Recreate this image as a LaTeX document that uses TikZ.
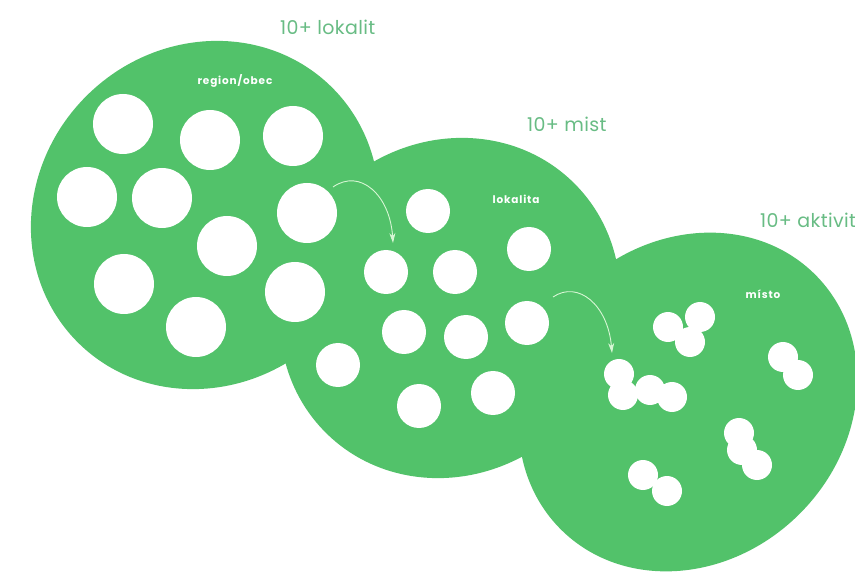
\documentclass[tikz,border=0pt]{standalone}
\usepackage{fontspec}
\setmainfont{Poppins}
\usetikzlibrary{shapes.geometric,arrows.meta}
\definecolor{disc}{RGB}{82,194,106}
\definecolor{titlec}{RGB}{104,188,132}
\definecolor{arrowc}{RGB}{215,246,212}
\tikzset{
  bigdisc/.style={ellipse, fill=disc, inner sep=0pt, rotate=45},
  holeA/.style={circle, fill=white, inner sep=0pt, minimum size=60pt},
  holeB/.style={circle, fill=white, inner sep=0pt, minimum size=44pt},
  holeC/.style={circle, fill=white, inner sep=0pt, minimum size=30pt},
  titlelab/.style={anchor=base west, inner sep=0pt, text=titlec, font=\fontsize{19}{21}\selectfont\addfontfeature{LetterSpace=2}},
  innerlab/.style={inner sep=0pt, text=white, font=\fontsize{10.5}{12}\selectfont\bfseries\addfontfeature{LetterSpace=8}},
  flow/.style={draw=arrowc, line width=0.9pt, -{Stealth[length=10pt,width=6pt]}}
}
\begin{document}
\begin{tikzpicture}[x=1pt,y=-1pt]
\clip (0,0) rectangle (855,572);
\fill[white] (0,0) rectangle (855,572);
% big discs
\node[bigdisc, minimum width=360pt, minimum height=336pt] (c1) at (205,215) {};
\node[bigdisc, minimum width=352pt, minimum height=328pt] (c2) at (450,308) {};
\node[bigdisc, minimum width=360pt, minimum height=316pt] (c3) at (688,402) {};
% holes disc 1
\node[holeA] (a1) at (123,124) {};
\node[holeA] (a2) at (210,140) {};
\node[holeA] (a3) at (293,136) {};
\node[holeA] (a4) at (87,197) {};
\node[holeA] (a5) at (162,198) {};
\node[holeA] (a6) at (307,213) {};
\node[holeA] (a7) at (227,246) {};
\node[holeA] (a8) at (124,284) {};
\node[holeA] (a9) at (295,292) {};
\node[holeA] (a10) at (196,327) {};
% holes disc 2
\node[holeB] (b1) at (428,211) {};
\node[holeB] (b2) at (386,272) {};
\node[holeB] (b3) at (455,272) {};
\node[holeB] (b4) at (529,249) {};
\node[holeB] (b5) at (404,332) {};
\node[holeB] (b6) at (466,337) {};
\node[holeB] (b7) at (527,323) {};
\node[holeB] (b8) at (338,365) {};
\node[holeB] (b9) at (419,406) {};
\node[holeB] (b10) at (493,393) {};
% blobs disc 3
\node[holeC] (p1) at (668,327) {};
\node[holeC] (p2) at (700,317) {};
\node[holeC] (p3) at (690,342) {};
\node[holeC] (q1) at (619,374) {};
\node[holeC] (q2) at (623,395) {};
\node[holeC] (q3) at (650,390) {};
\node[holeC] (q4) at (672,397) {};
\node[holeC] (r1) at (783,357) {};
\node[holeC] (r2) at (798,375) {};
\node[holeC] (s1) at (739,433) {};
\node[holeC] (s2) at (742,450) {};
\node[holeC] (s3) at (757,465) {};
\node[holeC] (t1) at (643,475) {};
\node[holeC] (t2) at (667,491) {};
% labels
\node[titlelab] (l1) at (280,35) {10+ lokalit};
\node[titlelab] (l2) at (527,132) {10+ mist};
\node[titlelab] (l3) at (760,228) {10+ aktivit};
\node[innerlab] (i1) at (235,81) {region/obec};
\node[innerlab] (i2) at (516,199) {lokalita};
\node[innerlab] (i3) at (763,294) {místo};
% arrows
\coordinate (f1s) at (333,187);
\coordinate (f1e) at (393,243);
\coordinate (f2s) at (553,297);
\coordinate (f2e) at (612,353);
\draw[flow] (f1s) .. controls (360,168) and (390,195) .. (f1e);
\draw[flow] (f2s) .. controls (578,280) and (608,305) .. (f2e);
\end{tikzpicture}
\end{document}
